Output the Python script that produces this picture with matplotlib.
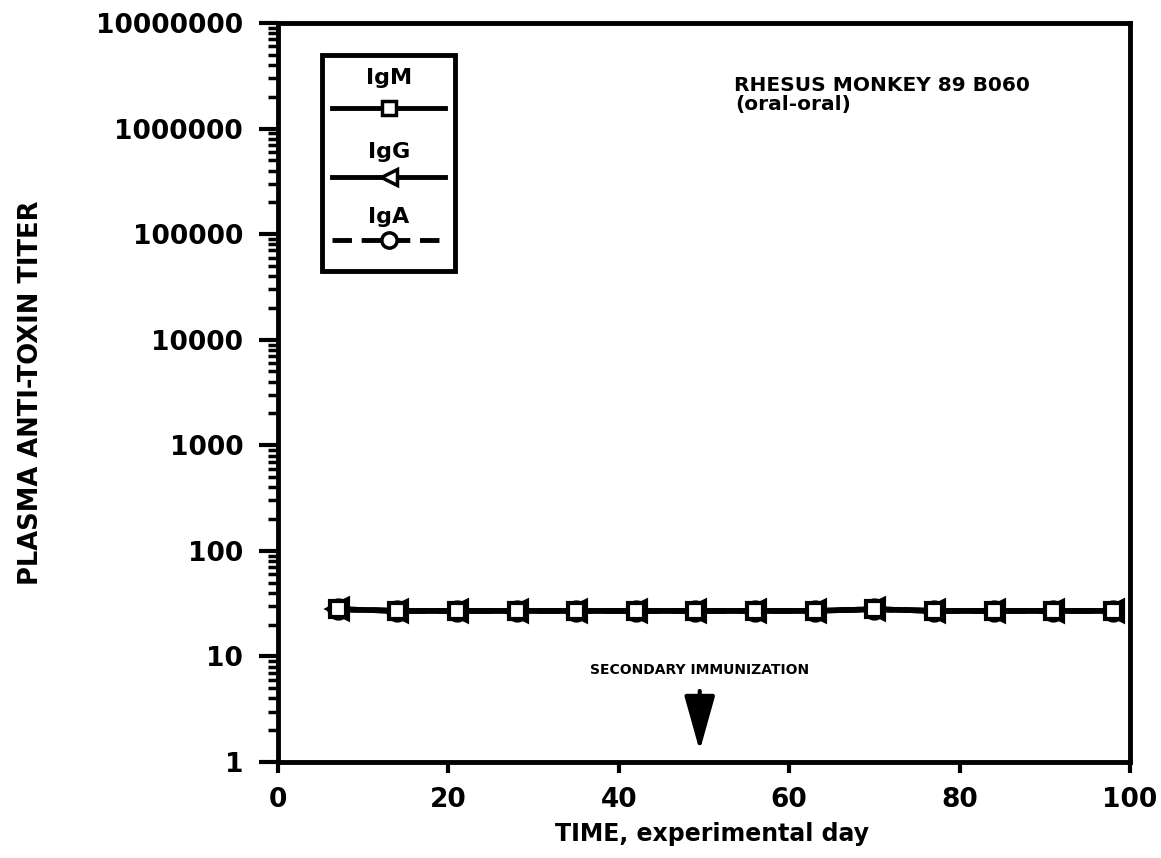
import matplotlib
matplotlib.use("Agg")
import matplotlib.pyplot as plt
from matplotlib.lines import Line2D
from matplotlib.patches import Rectangle

# Data
days = [7, 14, 21, 28, 35, 42, 49, 56, 63, 70, 77, 84, 91, 98]
igm = [28, 27, 27, 27, 27, 27, 27, 27, 27, 28, 27, 27, 27, 27]
igg = [28, 27, 27, 27, 27, 27, 27, 27, 27, 28, 27, 27, 27, 27]
iga = [28, 27, 27, 27, 27, 27, 27, 27, 27, 28, 27, 27, 27, 27]
series_labels = ["IgM", "IgG", "IgA"]
yticks = [1, 10, 100, 1000, 10000, 100000, 1000000, 10000000]
xticks = [0, 20, 40, 60, 80, 100]
boost_day = 49.5

plt.rcParams['font.family'] = ['DejaVu Sans']

fig = plt.figure(figsize=(11.61, 8.58), dpi=100)
ax = fig.add_axes([0.2394, 0.1119, 0.7339, 0.8613])

lw = 4
ax.plot(days, iga, linestyle=(0, (4, 2)), color='black', lw=lw, marker='o',
        markersize=13, markerfacecolor='white', markeredgewidth=3, zorder=3)
ax.plot(days, igg, linestyle='-', color='black', lw=lw, marker='<',
        markersize=14, markerfacecolor='white', markeredgewidth=3, zorder=4)
ax.plot(days, igm, linestyle='-', color='black', lw=lw, marker='s',
        markersize=12, markerfacecolor='white', markeredgewidth=3, zorder=5)

ax.set_yscale('log')
ax.set_ylim(1, 1e7)
ax.set_xlim(0, 100)
ax.set_yticks(yticks)
ax.set_yticklabels([str(v) for v in yticks])
ax.set_xticks(xticks)
ax.set_xticklabels([str(v) for v in xticks])

for s in ax.spines.values():
    s.set_linewidth(3.5)
ax.tick_params(axis='y', which='major', direction='out', length=14, width=3,
               labelsize=19, pad=11)
ax.tick_params(axis='x', which='major', direction='out', length=8, width=3,
               labelsize=19, pad=10)
ax.tick_params(axis='y', which='minor', direction='out', length=7, width=2.5)
for lab in ax.get_xticklabels() + ax.get_yticklabels():
    lab.set_fontweight('bold')

ax.set_xlabel("TIME, experimental day", fontsize=17, fontweight='bold')
ax.xaxis.set_label_coords(0.51, -0.081)
ax.set_ylabel("PLASMA ANTI-TOXIN TITER", fontsize=18.5, fontweight='bold')
ax.yaxis.set_label_coords(-0.275, 0.5)

ax.text(0.535, 0.915, "RHESUS MONKEY 89 B060", transform=ax.transAxes,
        fontsize=14.5, fontweight='bold', ha='left', va='center')
ax.text(0.537, 0.89, "(oral-oral)", transform=ax.transAxes,
        fontsize=14.5, fontweight='bold', ha='left', va='center')

# Secondary immunization arrow
ax.text(boost_day, 7.5, "SECONDARY IMMUNIZATION", fontsize=10, fontweight='bold',
        ha='center', va='center')
ax.annotate("", xy=(boost_day, 1.2), xytext=(boost_day, 5.0),
            arrowprops=dict(arrowstyle='-|>,head_length=3.4,head_width=0.95',
                            color='black', lw=3))

# Legend box (manual, labels above line samples)
bx0, by0, bw, bh = 0.052, 0.665, 0.156, 0.292
ax.add_patch(Rectangle((bx0, by0), bw, bh, transform=ax.transAxes, fill=False,
                       lw=3.5, edgecolor='black', zorder=6))
entries = [
    ("IgM", '-', 's', 10, 0.885, 0.925),
    ("IgG", '-', '<', 12, 0.792, 0.826),
    ("IgA", (0, (4, 2)), 'o', 11, 0.706, 0.738),
]
for lab, ls, mk, ms, yl, yt in entries:
    xs = [bx0 + 0.012, bx0 + bw - 0.012]
    ax.add_line(Line2D(xs, [yl, yl], transform=ax.transAxes, color='black',
                       lw=3.5, linestyle=ls, zorder=7))
    ax.add_line(Line2D([bx0 + bw / 2], [yl], transform=ax.transAxes,
                       color='black', marker=mk, markersize=ms,
                       markerfacecolor='white', markeredgewidth=2.5, zorder=8))
    ax.text(bx0 + bw / 2, yt, lab, transform=ax.transAxes,
            fontsize=16, fontweight='bold', ha='center', va='center', zorder=8)

fig.savefig("out.png", dpi=100)
